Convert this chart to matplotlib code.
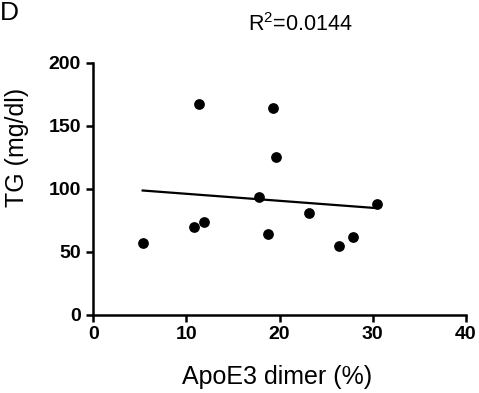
import matplotlib
matplotlib.use("Agg")
import matplotlib.pyplot as plt

# Data
apoe3_dimer = [5.3, 11.3, 10.8, 11.9, 17.8, 18.8, 19.3, 19.6, 23.2, 26.4, 27.9, 30.5]
tg = [57.5, 167.5, 70.0, 74.0, 93.5, 64.5, 164.5, 125.0, 81.0, 54.5, 62.0, 88.0]
fit_x = [5.3, 30.1]
fit_y = [98.8, 85.0]
x_ticks = [0, 10, 20, 30, 40]
y_ticks = [0, 50, 100, 150, 200]
r2_text = "R$^2$=0.0144"

plt.rcParams['font.family'] = ['Liberation Sans', 'DejaVu Sans']
plt.rcParams['mathtext.fontset'] = 'custom'
plt.rcParams['mathtext.rm'] = 'Liberation Sans'

fig = plt.figure(figsize=(4.79, 3.93), dpi=100)
ax = fig.add_axes([0.1948, 0.1985, 0.7775, 0.6412])

ax.plot(fit_x, fit_y, color='black', lw=1.6, zorder=2)
ax.scatter(apoe3_dimer, tg, s=60, color='black', zorder=3, linewidths=0)

ax.set_xlim(0, 40)
ax.set_ylim(0, 200)
ax.set_xticks(x_ticks)
ax.set_yticks(y_ticks)
for s in ['top', 'right']:
    ax.spines[s].set_visible(False)
for s in ['left', 'bottom']:
    ax.spines[s].set_linewidth(1.8)
ax.tick_params(axis='both', direction='out', width=1.8, length=5, labelsize=14)
ax.tick_params(axis='x', pad=3)
ax.tick_params(axis='y', pad=4)
for lab in ax.get_xticklabels() + ax.get_yticklabels():
    lab.set_fontweight('bold')

fig.text(277 / 479, 1 - 377 / 393, "ApoE3 dimer (%)", fontsize=18, ha='center', va='center')
fig.text(17 / 479, 1 - 147 / 393, "TG (mg/dl)", fontsize=18, ha='center', va='center',
         rotation=90)

fig.text(300 / 479, 1 - 25 / 393, r2_text, fontsize=15.5, ha='center', va='center')
fig.text(0.0, 1 - 12.5 / 393, "D", fontsize=19, ha='left', va='center')

fig.savefig("out.png", dpi=100)
